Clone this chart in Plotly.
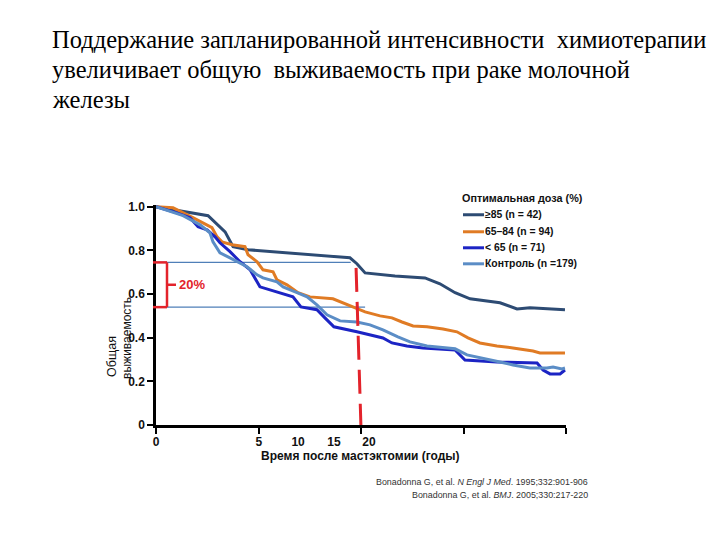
import plotly.graph_objects as go

# ---------------- data ----------------
x_ge85 = [0, 2.54, 3.37, 3.76, 4.49, 9.46, 9.80, 10.20, 11.66, 13.12, 13.85, 14.59, 15.32, 16.78, 17.61, 18.24, 19.95]
y_ge85 = [1.0, 0.959, 0.885, 0.817, 0.803, 0.766, 0.739, 0.697, 0.683, 0.674, 0.647, 0.606, 0.578, 0.560, 0.532, 0.537, 0.528]

x_6584 = [0, 0.83, 1.80, 2.73, 2.98, 3.22, 3.71, 4.34, 4.49, 4.93, 5.22, 5.71, 5.90, 6.39, 6.93, 7.51, 8.63, 9.12, 9.61,
          10.20, 10.93, 11.51, 12.00, 12.54, 13.22, 14.00, 14.68, 15.22, 15.80, 16.63, 17.41, 18.10, 18.39, 18.73, 19.95]
y_6584 = [1.0, 0.995, 0.950, 0.904, 0.862, 0.839, 0.826, 0.817, 0.780, 0.748, 0.711, 0.702, 0.665, 0.642, 0.606, 0.587, 0.578, 0.560, 0.541,
          0.518, 0.500, 0.491, 0.472, 0.454, 0.450, 0.440, 0.427, 0.399, 0.376, 0.362, 0.353, 0.344, 0.339, 0.330, 0.330]

x_lt65 = [0, 1.02, 1.66, 2.05, 2.49, 2.88, 3.12, 3.61, 4.10, 4.59, 5.07, 5.90, 6.68, 7.07, 7.85, 8.24, 8.68, 9.80,
          11.07, 11.51, 12.24, 13.02, 14.59, 15.07, 16.63, 18.59, 18.88, 19.22, 19.71, 19.95]
y_lt65 = [1.0, 0.972, 0.950, 0.908, 0.894, 0.862, 0.835, 0.794, 0.748, 0.711, 0.633, 0.610, 0.587, 0.541, 0.528, 0.491, 0.450, 0.427,
          0.399, 0.376, 0.362, 0.353, 0.344, 0.298, 0.289, 0.284, 0.252, 0.234, 0.234, 0.252]

x_ctrl = [0, 1.32, 2.15, 2.63, 2.78, 3.12, 3.61, 4.00, 4.44, 4.93, 5.22, 5.90, 6.20, 6.88, 7.37, 7.85, 8.34, 8.98, 9.80,
          10.44, 11.07, 11.80, 12.39, 13.22, 14.59, 15.17, 15.95, 16.78, 17.41, 18.24, 19.07, 19.37, 19.80, 19.95]
y_ctrl = [1.0, 0.959, 0.917, 0.881, 0.839, 0.789, 0.766, 0.748, 0.725, 0.688, 0.674, 0.656, 0.633, 0.606, 0.587, 0.550, 0.505, 0.477, 0.472,
          0.459, 0.436, 0.404, 0.381, 0.362, 0.349, 0.321, 0.307, 0.289, 0.275, 0.261, 0.261, 0.266, 0.257, 0.261]

series_names = ["\u226585 (n = 42)", "65\u201384 (n = 94)", "< 65 (n = 71)", "Контроль (n =179)"]
legend_title = "Оптимальная доза (%)"

# reference levels (20% gap) and landmark
ref_top = 0.745
ref_bottom = 0.540
ref_top_end = 9.5
ref_bottom_end = 10.2
landmark_x_top = 9.76
landmark_x_bottom = 10.0
landmark_y_top = 0.72
gap_label = "20%"

y_tick_vals = [0, 0.2, 0.4, 0.6, 0.8, 1.0]
y_tick_text = ["0", "0.2", "0.4", "0.6", "0.8", "1.0"]
x_tick_marks = [0, 5, 10, 15, 20]
x_tick_labels = ["0", "5", "10", "15", "20"]
x_label_pos = [0, 5.02, 6.93, 8.68, 10.39]

title_lines = ["Поддержание запланированной интенсивности \u00a0химиотерапии",
               "увеличивает общую \u00a0выживаемость при раке молочной",
               "железы"]
x_title = "Время после мастэктомии (годы)"
y_title1 = "Общая"
y_title2 = "выживаемость"
refs = ["Bonadonna G, et al. <i>N Engl J Med</i>. 1995;332:901-906",
        "Bonadonna G, et al. <i>BMJ</i>. 2005;330:217-220"]

# ---------------- style ----------------
colors = ["#2D4B73", "#E07B24", "#1C24C4", "#5B8DC6"]
red = "#E3232B"
SANS = "Liberation Sans, Arial, sans-serif"
SERIF = "Liberation Serif, Times New Roman, serif"

OFF = 8  # page body margin
L, R_px, T_px, B_px = 156 - OFF, 566 - OFF, 207 - OFF, 425 - OFF
YMAX = 1.008
W = R_px - L
H = (B_px - T_px) * YMAX


def pxx(p):
    return (p - OFF - L) / W


def pxy(p):
    return (B_px - (p - OFF)) / H


fig = go.Figure()
for xs, ys, c, n in zip([x_ge85, x_6584, x_lt65, x_ctrl], [y_ge85, y_6584, y_lt65, y_ctrl], colors, series_names):
    fig.add_trace(go.Scatter(x=xs, y=ys, mode="lines", line=dict(color=c, width=3), name=n, showlegend=False))

# dummy trace for second x axis (labels)
fig.add_trace(go.Scatter(x=[0], y=[0], xaxis="x2", mode="markers", marker=dict(opacity=0), showlegend=False, hoverinfo="skip"))

shapes = []
shapes.append(dict(type="line", xref="x", yref="y", x0=0, x1=ref_top_end, y0=ref_top, y1=ref_top,
                   line=dict(color="#4F7FB8", width=1.2), layer="below"))
shapes.append(dict(type="line", xref="x", yref="y", x0=0, x1=ref_bottom_end, y0=ref_bottom, y1=ref_bottom,
                   line=dict(color="#4F7FB8", width=1.2), layer="below"))
shapes.append(dict(type="line", xref="x", yref="y", x0=landmark_x_top, x1=landmark_x_bottom, y0=landmark_y_top, y1=-0.015,
                   line=dict(color=red, width=3, dash="24px,10px")))
bx = pxx(167)
bl = pxx(153)
bm = pxx(176)
ymid = (ref_top + ref_bottom) / 2
for yv in [ref_top, ref_bottom]:
    shapes.append(dict(type="line", xref="paper", yref="y", x0=bl, x1=bx, y0=yv, y1=yv, line=dict(color=red, width=2.5)))
shapes.append(dict(type="line", xref="paper", yref="y", x0=bx, x1=bx, y0=ref_top, y1=ref_bottom, line=dict(color=red, width=2.5)))
shapes.append(dict(type="line", xref="paper", yref="y", x0=bx, x1=bm, y0=ymid, y1=ymid, line=dict(color=red, width=2.5)))

annotations = []
annotations.append(dict(xref="paper", yref="y", x=pxx(177), y=ymid, text="<b>" + gap_label + "</b>", showarrow=False,
                        xanchor="left", yanchor="middle", font=dict(family=SANS, size=13, color=red)))

# legend (manual)
leg_y = [215, 232, 248, 264]
annotations.append(dict(xref="paper", yref="paper", x=pxx(460), y=pxy(198), text="<b>" + legend_title + "</b>",
                        showarrow=False, xanchor="left", yanchor="middle", font=dict(family=SANS, size=10.8, color="#111")))
for yy, c, n in zip(leg_y, colors, series_names):
    shapes.append(dict(type="line", xref="paper", yref="paper", x0=pxx(463), x1=pxx(484), y0=pxy(yy), y1=pxy(yy),
                       line=dict(color=c, width=3)))
    annotations.append(dict(xref="paper", yref="paper", x=pxx(483), y=pxy(yy), text="<b>" + n + "</b>", showarrow=False,
                            xanchor="left", yanchor="middle", font=dict(family=SANS, size=10.4, color="#111")))

# title
for i, t in enumerate(title_lines):
    annotations.append(dict(xref="paper", yref="paper", x=pxx(50), y=pxy(40 + 30 * i), text=t, showarrow=False,
                            xanchor="left", yanchor="middle", font=dict(family=SERIF, size=24.5, color="#000")))

# axis titles
annotations.append(dict(xref="paper", yref="paper", x=pxx(360), y=pxy(456), text="<b>" + x_title + "</b>", showarrow=False,
                        xanchor="center", yanchor="middle", font=dict(family=SANS, size=12, color="#111")))
annotations.append(dict(xref="paper", yref="paper", x=pxx(112), y=pxy(357), text=y_title1, showarrow=False, textangle=-90,
                        xanchor="center", yanchor="middle", font=dict(family=SANS, size=12.5, color="#111")))
annotations.append(dict(xref="paper", yref="paper", x=pxx(127), y=pxy(338), text=y_title2, showarrow=False, textangle=-90,
                        xanchor="center", yanchor="middle", font=dict(family=SANS, size=12, color="#111")))

for i, r in enumerate(refs):
    annotations.append(dict(xref="paper", yref="paper", x=pxx(590), y=pxy(482 + 13 * i), text=r, showarrow=False,
                            xanchor="right", yanchor="middle", font=dict(family=SANS, size=8.9, color="#333")))

fig.update_layout(
    width=720, height=540,
    margin=dict(l=L, r=720 - R_px, t=B_px - H, b=540 - B_px, pad=0),
    paper_bgcolor="white", plot_bgcolor="white",
    showlegend=False,
    shapes=shapes, annotations=annotations,
    xaxis=dict(range=[0, 20], showgrid=False, zeroline=False, showline=True, linecolor="#000", linewidth=2.5,
               ticks="outside", ticklen=6, tickwidth=2, tickcolor="#000", tickvals=x_tick_marks, showticklabels=False),
    xaxis2=dict(range=[0, 20], overlaying="x", anchor="y", side="bottom", showgrid=False, zeroline=False, showline=False,
                ticks="outside", ticklen=6, tickcolor="rgba(0,0,0,0)", tickvals=x_label_pos, ticktext=x_tick_labels,
                tickfont=dict(family=SANS, size=12, color="#111", weight="bold")),
    yaxis=dict(range=[0, YMAX], showgrid=False, zeroline=False, showline=True, linecolor="#000", linewidth=2.5,
               ticks="outside", ticklen=6, tickwidth=2, tickcolor="#000", tickvals=y_tick_vals, ticktext=y_tick_text,
               tickfont=dict(family=SANS, size=12, color="#111", weight="bold")),
)

fig.write_html("out.html")
